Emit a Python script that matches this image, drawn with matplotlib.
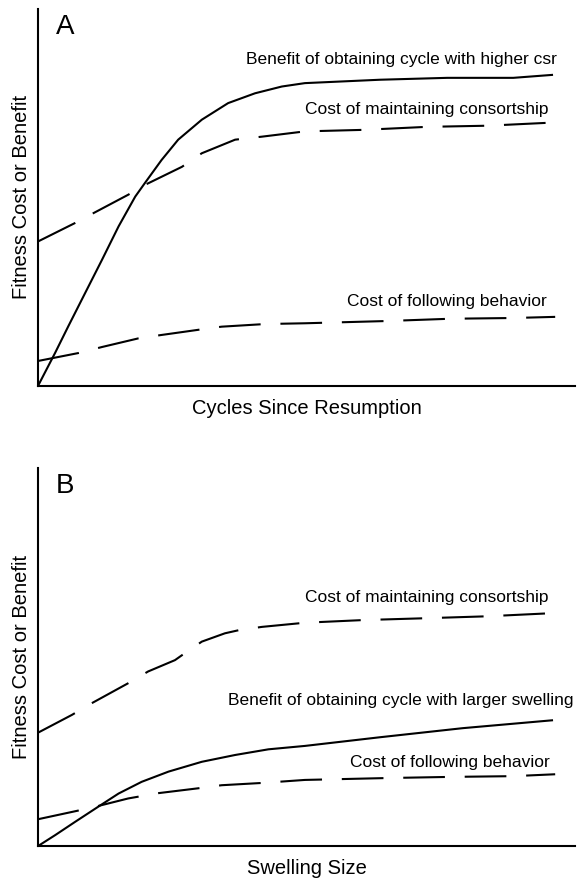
import numpy as np
import matplotlib.pyplot as plt

plt.rcParams['font.family'] = ['Liberation Sans', 'DejaVu Sans']

# -----------------------------
# Data (arbitrary units 0..1)
# -----------------------------
# Panel A: cycles since resumption
a_ben_x = [0.0, 0.032, 0.056, 0.088, 0.119, 0.150, 0.181, 0.199, 0.230, 0.261, 0.305,
           0.354, 0.404, 0.454, 0.497, 0.637, 0.762, 0.885, 0.959]
a_ben_y = [0.0, 0.088, 0.157, 0.247, 0.334, 0.423, 0.502, 0.538, 0.599, 0.653, 0.706,
           0.750, 0.776, 0.794, 0.803, 0.812, 0.817, 0.817, 0.825]

a_cons_x = [0.0, 0.069, 0.103, 0.168, 0.199, 0.268, 0.305, 0.367, 0.417, 0.497,
            0.605, 0.724, 0.836, 0.953]
a_cons_y = [0.383, 0.432, 0.458, 0.507, 0.533, 0.581, 0.617, 0.653, 0.661, 0.675,
            0.679, 0.687, 0.690, 0.698]

a_fol_x = [0.0, 0.075, 0.119, 0.187, 0.230, 0.305, 0.342, 0.423, 0.497, 0.650, 0.767, 0.885, 0.963]
a_fol_y = [0.066, 0.087, 0.103, 0.126, 0.135, 0.150, 0.157, 0.164, 0.166, 0.172, 0.178, 0.180, 0.183]

# Panel B: swelling size
b_cons_x = [0.0, 0.063, 0.100, 0.168, 0.205, 0.255, 0.268, 0.305, 0.348, 0.373, 0.417, 0.497,
            0.605, 0.724, 0.836, 0.953]
b_cons_y = [0.300, 0.347, 0.378, 0.431, 0.462, 0.492, 0.505, 0.541, 0.563, 0.571, 0.580, 0.591,
            0.598, 0.603, 0.608, 0.616]

b_ben_x = [0.0, 0.032, 0.069, 0.112, 0.150, 0.193, 0.243, 0.305, 0.367, 0.429, 0.497,
           0.637, 0.791, 0.959]
b_ben_y = [0.0, 0.029, 0.064, 0.104, 0.139, 0.170, 0.197, 0.223, 0.241, 0.256, 0.265,
           0.288, 0.312, 0.333]

b_fol_x = [0.0, 0.072, 0.112, 0.168, 0.224, 0.299, 0.342, 0.417, 0.497, 0.650, 0.767, 0.885, 0.963]
b_fol_y = [0.071, 0.093, 0.106, 0.126, 0.140, 0.153, 0.161, 0.167, 0.175, 0.180, 0.183, 0.185, 0.190]

panels = [
    ("A", "Cycles Since Resumption",
     [(a_ben_x, a_ben_y, "-"), (a_cons_x, a_cons_y, "--"), (a_fol_x, a_fol_y, "--")],
     [("Benefit of obtaining cycle with higher csr", 0.967, 0.865),
      ("Cost of maintaining consortship", 0.950, 0.732),
      ("Cost of following behavior", 0.948, 0.223)]),
    ("B", "Swelling Size",
     [(b_cons_x, b_cons_y, "--"), (b_ben_x, b_ben_y, "-"), (b_fol_x, b_fol_y, "--")],
     [("Cost of maintaining consortship", 0.950, 0.657),
      ("Benefit of obtaining cycle with larger swelling", 0.997, 0.386),
      ("Cost of following behavior", 0.952, 0.222)]),
]

fig = plt.figure(figsize=(5.85, 8.85), dpi=100)
boxes = [[0.065, 0.564, 0.918, 0.426], [0.065, 0.044, 0.918, 0.427]]

for box, (letter, xlabel, lines, labels) in zip(boxes, panels):
    ax = fig.add_axes(box)
    for x, y, ls in lines:
        if ls == "-":
            ax.plot(x, y, color="black", lw=1.5, solid_capstyle="butt",
                    solid_joinstyle="round")
        else:
            ax.plot(x, y, color="black", lw=1.5, linestyle=(0, (20, 9.5)),
                    dash_capstyle="butt", dash_joinstyle="round")
    for txt, tx, ty in labels:
        ax.text(tx, ty, txt, transform=ax.transAxes, ha="right", va="center",
                fontsize=12.5)
    ax.text(0.033, 0.933, letter, transform=ax.transAxes, ha="left", va="baseline",
            fontsize=20)
    ax.set_xlim(0, 1)
    ax.set_ylim(0, 1)
    ax.set_xticks([])
    ax.set_yticks([])
    for s in ["top", "right"]:
        ax.spines[s].set_visible(False)
    for s in ["left", "bottom"]:
        ax.spines[s].set_linewidth(1.5)
    ax.set_xlabel(xlabel, fontsize=14.5, labelpad=9.5)
    ax.set_ylabel("Fitness Cost or Benefit", fontsize=14.5, labelpad=5)

fig.savefig("out.png", dpi=100)
